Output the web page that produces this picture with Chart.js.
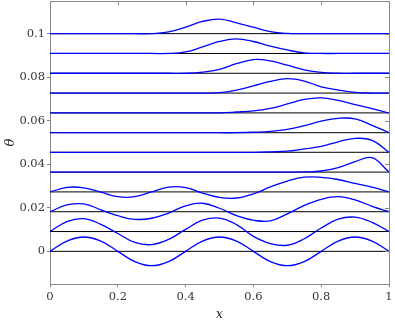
<!DOCTYPE html>
<html>
<head>
<meta charset="utf-8">
<script src="https://cdn.jsdelivr.net/npm/chart.js@4/dist/chart.umd.min.js"></script>
<style>
  html, body { margin: 0; padding: 0; background: #fff; }
  #box { width: 395px; height: 322px; }
</style>
</head>
<body>
<div id="box"><canvas id="grafico"></canvas></div>
<script>
const xs = [0, 0.05, 0.1, 0.15, 0.2, 0.25, 0.3, 0.35, 0.4, 0.45, 0.5, 0.55, 0.6, 0.65, 0.7, 0.75, 0.8, 0.85, 0.9, 0.95, 1];

// vertical offset of every profile (black baseline)
const offsets = [0, 0.0091, 0.0182, 0.0273, 0.0364, 0.0455, 0.0545, 0.0636, 0.0727, 0.0818, 0.0909, 0.1];

// theta(x) relative to its baseline, bottom profile first
const wave0 = [0, 0.0047, 0.0066, 0.0047, 0, -0.0047, -0.0066, -0.0047, 0, 0.0047, 0.0066, 0.0047, 0, -0.0047, -0.0066, -0.0047, 0, 0.0047, 0.0066, 0.0047, 0];
const wave1 = [0, 0.0046, 0.0059, 0.0033, -0.0009, -0.0050, -0.0060, -0.0036, 0.0010, 0.0052, 0.0062, 0.0032, -0.0022, -0.0055, -0.0063, -0.0033, 0.0016, 0.0057, 0.0066, 0.0042, 0];
const wave2 = [0, 0.0031, 0.0036, 0.0009, -0.0018, -0.0035, -0.0030, -0.0006, 0.0027, 0.0039, 0.0016, -0.0018, -0.0039, -0.0042, -0.0010, 0.0029, 0.0057, 0.0069, 0.0054, 0.0025, 0];
const wave3 = [0, 0.0021, 0.0019, -0.0001, -0.0022, -0.0022, 0, 0.0022, 0.0020, -0.0005, -0.0025, -0.0028, -0.0009, 0.0023, 0.0050, 0.0068, 0.0067, 0.0057, 0.0039, 0.0022, 0];
const wave4 = [0, 0, 0, 0, 0, 0, 0, 0, 0, 0, 0, 0, 0, 0, 0, 0.0001, 0.0005, 0.0021, 0.0048, 0.0066, 0];
const wave5 = [0, 0, 0, 0, 0, 0, 0, 0, 0, 0, 0, 0, 0, 0.0002, 0.0005, 0.0016, 0.0027, 0.0048, 0.0064, 0.0055, 0];
const wave6 = [0, 0, 0, 0, 0, 0, 0, 0, 0, 0, 0, 0, 0.0002, 0.0006, 0.0015, 0.0032, 0.0053, 0.0066, 0.0064, 0.0034, 0];
const wave7 = [0, 0, 0, 0, 0, 0, 0, 0, 0, 0, 0, 0.0004, 0.0009, 0.0021, 0.0041, 0.0062, 0.0069, 0.0057, 0.0038, 0.0020, 0];
const wave8 = [0, 0, 0, 0, 0, 0, 0, 0, 0, 0, 0.0002, 0.0014, 0.0033, 0.0054, 0.0066, 0.0055, 0.0029, 0.0014, 0.0003, 0, 0];
const wave9 = [0, 0, 0, 0, 0, 0, 0, 0, 0, 0.0005, 0.0018, 0.0044, 0.0063, 0.0057, 0.0037, 0.0016, 0.0004, 0, 0, 0, 0];
const wave10 = [0, 0, 0, 0, 0, 0, 0, 0, 0.0007, 0.0030, 0.0055, 0.0067, 0.0055, 0.0034, 0.0016, 0.0003, 0, 0, 0, 0, 0];
const wave11 = [0, 0, 0, 0, 0, 0, 0, 0.0008, 0.0030, 0.0056, 0.0067, 0.0050, 0.0030, 0.0009, 0.0001, 0, 0, 0, 0, 0, 0];

const waves = [wave0, wave1, wave2, wave3, wave4, wave5, wave6, wave7, wave8, wave9, wave10, wave11];

const xTicks = [0, 0.2, 0.4, 0.6, 0.8, 1];
const yTicks = [0, 0.02, 0.04, 0.06, 0.08, 0.1];

const gris = "#888";
const fuenteTicks = { family: "DejaVu Serif", size: 11.5 };

// blue profiles first so they are drawn over the baselines
const curvas = waves.map((w, k) => ({
  data: xs.map((x, i) => ({ x: x, y: offsets[k] + w[i] })),
  borderColor: "#0000ff",
  borderWidth: 1.3,
  pointRadius: 0,
  tension: 0.4,
  fill: false
}));

const bases = offsets.map(o => ({
  data: [{ x: 0, y: o }, { x: 1, y: o }],
  borderColor: "#000",
  borderWidth: 1,
  pointRadius: 0,
  fill: false
}));

// top / right spines with inward ticks
const marco = {
  id: "marco",
  afterDraw(chart) {
    const { ctx, chartArea: a, scales } = chart;
    ctx.save();
    ctx.strokeStyle = gris;
    ctx.lineWidth = 1;
    ctx.beginPath();
    ctx.moveTo(a.left, a.top + 0.5);
    ctx.lineTo(a.right + 0.5, a.top + 0.5);
    ctx.lineTo(a.right + 0.5, a.bottom);
    xTicks.forEach(v => {
      const px = Math.round(scales.x.getPixelForValue(v)) + 0.5;
      ctx.moveTo(px, a.top);
      ctx.lineTo(px, a.top + 4);
    });
    yTicks.forEach(v => {
      const py = Math.round(scales.y.getPixelForValue(v)) + 0.5;
      ctx.moveTo(a.right, py);
      ctx.lineTo(a.right - 4, py);
    });
    ctx.stroke();
    ctx.restore();
  }
};

new Chart(document.getElementById("grafico"), {
  type: "line",
  data: { datasets: curvas.concat(bases) },
  options: {
    responsive: true,
    maintainAspectRatio: false,
    animation: false,
    events: [],
    layout: { padding: { top: 1, right: 6, left: 0, bottom: 0 } },
    plugins: { legend: { display: false }, tooltip: { enabled: false } },
    scales: {
      x: {
        type: "linear",
        min: 0,
        max: 1,
        afterFit: s => { s.height = 38; s.paddingLeft = 0; s.paddingRight = 0; },
        afterBuildTicks: s => { s.ticks = xTicks.map(v => ({ value: v })); },
        grid: { drawOnChartArea: false, drawTicks: true, tickLength: 3, color: gris },
        border: { display: true, color: gris, width: 1 },
        ticks: {
          color: "#333",
          font: fuenteTicks,
          padding: 3,
          maxRotation: 0,
          callback: v => String(+v.toFixed(3))
        },
        title: {
          display: true,
          text: "x",
          color: "#222",
          font: { family: "DejaVu Serif", size: 12, style: "italic" },
          padding: { top: 0, bottom: 0 }
        }
      },
      y: {
        type: "linear",
        min: -0.015,
        max: 0.115,
        afterFit: s => { s.width = 50; s.paddingTop = 0; s.paddingBottom = 0; },
        afterBuildTicks: s => { s.ticks = yTicks.map(v => ({ value: v })); },
        grid: { drawOnChartArea: false, drawTicks: true, tickLength: 3, color: gris },
        border: { display: true, color: gris, width: 1 },
        ticks: {
          color: "#333",
          font: fuenteTicks,
          padding: 2,
          callback: v => String(+v.toFixed(3))
        },
        title: {
          display: true,
          text: "θ",
          color: "#222",
          font: { family: "DejaVu Serif", size: 13, style: "italic" },
          padding: { top: 3, bottom: 0 }
        }
      }
    }
  },
  plugins: [marco]
});
</script>
</body>
</html>
